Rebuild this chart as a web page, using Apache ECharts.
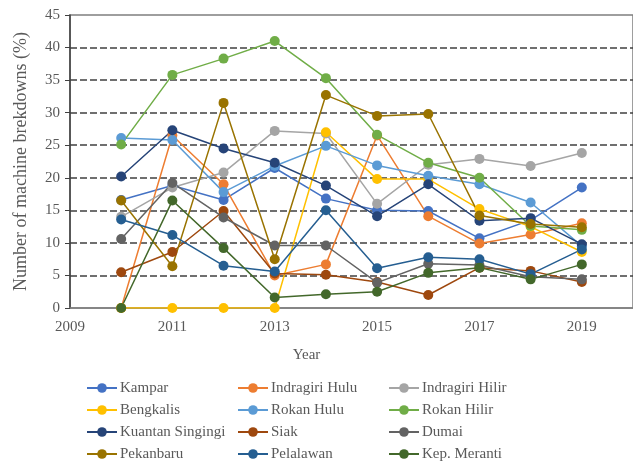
<!DOCTYPE html>
<html>
<head>
<meta charset="utf-8">
<script src="https://cdn.jsdelivr.net/npm/echarts@6/dist/echarts.min.js"></script>
<style>
html,body{margin:0;padding:0;background:#fff;}
#chart{width:633px;height:463px;}
</style>
</head>
<body>
<div id="chart"></div>
<script>
const years = [2010, 2011, 2012, 2013, 2014, 2015, 2016, 2017, 2018, 2019];
const kampar          = [16.6, 18.8, 16.6, 21.5, 16.8, 15.0, 14.9, 10.7, 13.5, 18.5];
const indragiriHulu   = [0, 26.5, 19.0, 5.0, 6.7, 26.5, 14.1, 9.9, 11.3, 13.0];
const indragiriHilir  = [14.0, 18.5, 20.8, 27.2, 26.8, 16.0, 22.0, 22.9, 21.8, 23.8];
const bengkalis       = [0, 0, 0, 0, 27.0, 19.8, 19.8, 15.2, 12.5, 8.6];
const rokanHulu       = [26.1, 25.8, 17.8, 21.8, 24.9, 21.9, 20.3, 19.0, 16.2, 9.5];
const rokanHilir      = [25.1, 35.8, 38.3, 41.0, 35.3, 26.6, 22.3, 20.0, 12.6, 12.0];
const kuantanSingingi = [20.2, 27.3, 24.5, 22.3, 18.8, 14.1, 19.0, 13.4, 13.8, 9.8];
const siak            = [5.5, 8.6, 14.9, 5.3, 5.1, 4.0, 2.0, 6.2, 5.7, 4.0];
const dumai           = [10.6, 19.2, 13.9, 9.6, 9.6, 3.9, 6.8, 6.6, 4.8, 4.4];
const pekanbaru       = [16.5, 6.4, 31.5, 7.5, 32.7, 29.5, 29.8, 14.2, 12.9, 12.4];
const pelalawan       = [13.6, 11.2, 6.5, 5.6, 15.0, 6.1, 7.8, 7.5, 5.2, 9.0];
const kepMeranti      = [0, 16.5, 9.2, 1.6, 2.1, 2.5, 5.4, 6.2, 4.4, 6.7];

const seriesNames = ['Kampar', 'Indragiri Hulu', 'Indragiri Hilir', 'Bengkalis', 'Rokan Hulu', 'Rokan Hilir',
  'Kuantan Singingi', 'Siak', 'Dumai', 'Pekanbaru', 'Pelalawan', 'Kep. Meranti'];
const seriesValues = [kampar, indragiriHulu, indragiriHilir, bengkalis, rokanHulu, rokanHilir,
  kuantanSingingi, siak, dumai, pekanbaru, pelalawan, kepMeranti];
const colors = ['#4472C4', '#ED7D31', '#A5A5A5', '#FFC000', '#5B9BD5', '#70AD47',
  '#264478', '#9E480E', '#636363', '#997300', '#255E91', '#43682B'];

const font = "'Liberation Serif', 'Times New Roman', serif";
const textColor = '#595959';

const series = seriesNames.map((name, i) => ({
  name: name,
  type: 'line',
  data: years.map((y, j) => [y, seriesValues[i][j]]),
  symbol: 'circle',
  symbolSize: 10,
  lineStyle: { width: 1.5, color: colors[i] },
  itemStyle: { color: colors[i] },
  emphasis: { disabled: true },
  animation: false
}));

function legendCol(names, left) {
  return {
    data: names,
    orient: 'vertical',
    left: left,
    top: 375,
    height: 100,
    itemWidth: 30,
    itemHeight: 12,
    itemGap: 6,
    textStyle: { fontFamily: font, fontSize: 15, lineHeight: 16, color: textColor, padding: [0, 0, 0, -2] }
  };
}

const chart = echarts.init(document.getElementById('chart'));
chart.setOption({
  backgroundColor: '#fff',
  color: colors,
  grid: { left: 70, top: 15, right: -7, bottom: 155, show: true, borderColor: '#7f7f7f', borderWidth: 1.5 },
  xAxis: {
    type: 'value',
    min: 2009,
    max: 2020,
    interval: 2,
    name: 'Year',
    nameLocation: 'middle',
    nameGap: 40,
    nameTextStyle: { fontFamily: font, fontSize: 15, color: textColor, padding: [0, 90, 0, 0] },
    axisLine: { lineStyle: { color: '#7f7f7f', width: 1.5 } },
    axisTick: { show: false },
    axisLabel: { fontFamily: font, fontSize: 15, color: textColor, margin: 12, showMaxLabel: false,
      formatter: v => String(v) },
    splitLine: { show: false }
  },
  yAxis: {
    type: 'value',
    min: 0,
    max: 45,
    interval: 5,
    name: 'Number of machine brekdowns (%)',
    nameLocation: 'middle',
    nameGap: 40,
    nameTextStyle: { fontFamily: font, fontSize: 18, color: textColor },
    axisLine: { show: true, lineStyle: { color: '#404040', width: 1.5 } },
    axisTick: { show: true, length: 5, lineStyle: { color: '#404040', width: 1 } },
    axisLabel: { fontFamily: font, fontSize: 15, color: textColor, margin: 10 },
    splitLine: { show: true, showMinLine: false, showMaxLine: false,
      lineStyle: { color: '#404040', type: [7, 3], width: 1.5 } }
  },
  legend: [
    legendCol(['Kampar', 'Bengkalis', 'Kuantan Singingi', 'Pekanbaru'], 81),
    legendCol(['Indragiri Hulu', 'Rokan Hulu', 'Siak', 'Pelalawan'], 232),
    legendCol(['Indragiri Hilir', 'Rokan Hilir', 'Dumai', 'Kep. Meranti'], 383)
  ],
  series: series
});
</script>
</body>
</html>
